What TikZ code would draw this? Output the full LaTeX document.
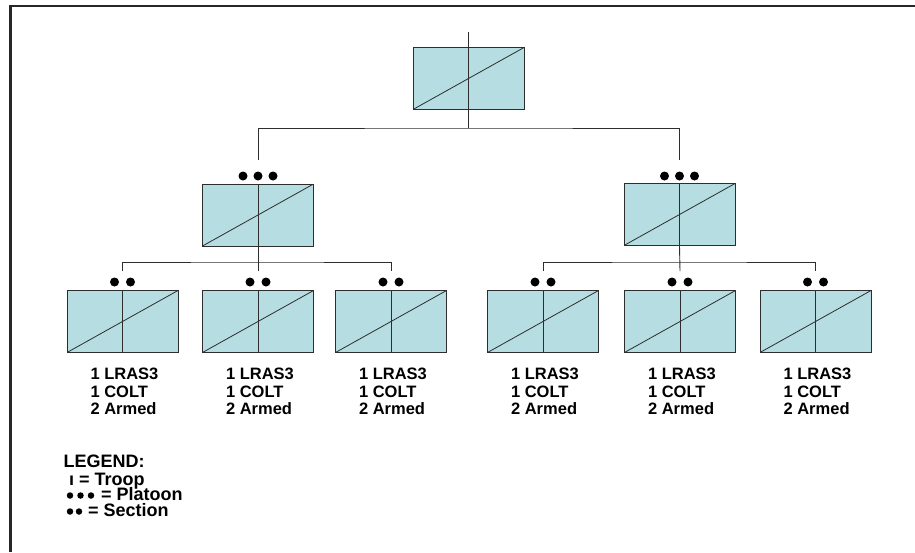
\documentclass[tikz,border=0pt]{standalone}
\usepackage{fontspec}
\setmainfont{Liberation Sans}
\definecolor{boxfill}{RGB}{182,221,225}
\definecolor{linec}{RGB}{45,45,45}
\begin{document}
\begin{tikzpicture}[x=1pt,y=-1pt,
  unit/.style={draw=linec, fill=boxfill, line width=0.9pt, minimum width=111pt, minimum height=62pt, inner sep=0pt,
    path picture={\draw[linec,line width=0.8pt] (path picture bounding box.south west) -- (path picture bounding box.north east);
      \draw[linec,line width=0.9pt] (path picture bounding box.south) -- (path picture bounding box.north);}},
  conn/.style={draw=linec, line width=0.9pt},
  bigdot/.style={circle, fill=black, inner sep=0pt, minimum size=9pt},
  smalldot/.style={circle, fill=black, inner sep=0pt, minimum size=6.5pt},
  lbl/.style={font=\bfseries\fontsize{16.5}{17.8}\selectfont, align=left, anchor=north, inner sep=0pt},
  leg/.style={font=\bfseries\fontsize{18}{18}\selectfont, anchor=base west, inner sep=0pt}]
\useasboundingbox (0,0) rectangle (915,552);
% frame
\draw[line width=2.6pt, black!85] (10.3,552) -- (10.3,6) -- (915,6);

% top unit
\node[unit] (top) at (468.5,78.5) {};
\coordinate (topstub) at (468.5,32);
\coordinate (topbus) at (468.5,128);
\draw[conn] (topstub) -- (top.north);
\draw[conn] (top.south) -- (topbus);

% platoons
\node[unit] (pL) at (258,215) {};
\node[unit] (pR) at (679.5,214.5) {};
\coordinate (pLin) at (258,160);
\coordinate (pRin) at (679.5,160);
\draw[conn] (pLin) |- (topbus) -| (pRin);
\node[bigdot] (pLd1) at (243,176) {};
\node[bigdot] (pLd2) at (258,176) {};
\node[bigdot] (pLd3) at (273,176) {};
\node[bigdot] (pRd1) at (664.5,176) {};
\node[bigdot] (pRd2) at (679.5,176) {};
\node[bigdot] (pRd3) at (694.5,176) {};

% sections
\foreach \nm/\xx in {s1/122.5,s2/258,s3/391,s4/543,s5/680,s6/815.5}{
  \node[unit] (\nm) at (\xx,321.5) {};
  \coordinate (\nm in) at (\xx,271);
  \node[bigdot] (\nm d1) at (\xx-8,282) {};
  \node[bigdot] (\nm d2) at (\xx+8,282) {};
  \node[lbl] (\nm t) at (\xx+2,367.5) {1 LRAS3\\1 COLT\\2 Armed};
}
\coordinate (pLbus) at (258,262);
\coordinate (pRbus) at (679.5,262);
\draw[conn] (pL.south) -- (s2in);
\draw[conn] (s1in) |- (pLbus) -| (s3in);
\draw[conn] (pR.south) -- (s5in);
\draw[conn] (s4in) |- (pRbus) -| (s6in);

% legend
\node[leg] (lg) at (63.5,467) {LEGEND:};
\node[leg] (lg1) at (69,485) {ı = Troop};
\foreach \i/\xx in {a/70,b/80.5,c/91}{\node[smalldot] (lp\i) at (\xx,495.5) {};}
\node[leg] (lg2) at (101,500.5) {= Platoon};
\foreach \i/\xx in {a/70,b/79}{\node[smalldot] (ls\i) at (\xx,511.5) {};}
\node[leg] (lg3) at (88,516.5) {= Section};
\end{tikzpicture}
\end{document}
